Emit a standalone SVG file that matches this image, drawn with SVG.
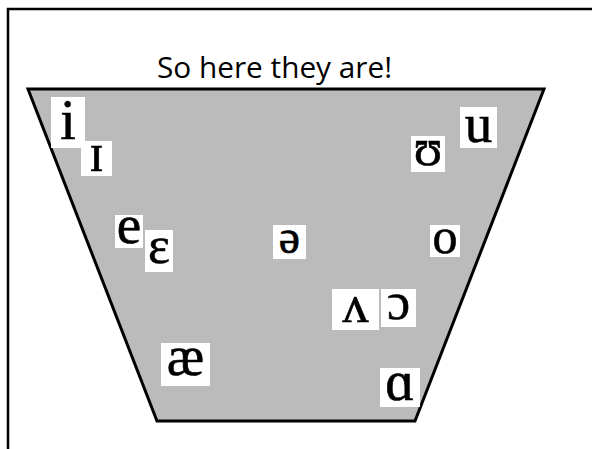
<svg xmlns="http://www.w3.org/2000/svg" width="592" height="449" viewBox="0 0 592 449">
<style>
.box{fill:#ffffff;stroke:none}
.ipa{font-family:"Liberation Serif","DejaVu Serif",serif;fill:#000;text-anchor:middle;stroke:#000;stroke-width:0.6}
.title{font-family:"Open Sans","Liberation Sans",sans-serif;font-size:29px;fill:#000}
</style>
<rect width="592" height="449" fill="#ffffff"/>
<g id="frame" fill="none" stroke="#000" stroke-width="2.5">
<polyline points="8,449 8,9 592,9"/>
</g>
<g id="title"><text class="title" x="157" y="78" textLength="235" lengthAdjust="spacingAndGlyphs">So here they are!</text></g>
<g id="vowel-space"><polygon points="28,89 544,89 415,421 157,421" fill="#bbbbbb" stroke="#000" stroke-width="3" stroke-linejoin="miter"/></g>
<g id="v-i"><rect class="box" x="51" y="97" width="34" height="51"/><text class="ipa" x="68" y="139" font-size="56">i</text></g>
<g id="v-ɪ"><rect class="box" x="81" y="141" width="31" height="35"/><text class="ipa" x="96.5" y="171" font-size="54">ɪ</text></g>
<g id="v-u"><rect class="box" x="460" y="107" width="37" height="41"/><text class="ipa" x="478.5" y="142" font-size="55">u</text></g>
<g id="v-ʊ"><rect class="box" x="411" y="136" width="34" height="36"/><text class="ipa" x="428" y="165" font-size="52">ʊ</text></g>
<g id="v-e"><rect class="box" x="115" y="215" width="28" height="33"/><text class="ipa" x="129" y="243" font-size="55">e</text></g>
<g id="v-ɛ"><rect class="box" x="145" y="230" width="28" height="42"/><text class="ipa" x="159" y="263" font-size="52">ɛ</text></g>
<g id="v-ə"><rect class="box" x="273" y="225" width="33" height="34"/><text class="ipa" x="289.5" y="253" font-size="48">ə</text></g>
<g id="v-o"><rect class="box" x="430" y="225" width="30" height="32"/><text class="ipa" x="445" y="253" font-size="50">o</text></g>
<g id="v-ʌ"><rect class="box" x="332" y="289" width="47" height="41"/><text class="ipa" x="355.5" y="322" font-size="52">ʌ</text></g>
<g id="v-ɔ"><rect class="box" x="381" y="289" width="35" height="38"/><text class="ipa" x="398.5" y="319" font-size="52">ɔ</text></g>
<g id="v-æ"><rect class="box" x="161" y="343" width="49" height="43"/><text class="ipa" x="185.5" y="375" font-size="56">æ</text></g>
<g id="v-ɑ"><rect class="box" x="380" y="368" width="40" height="39"/><text class="ipa" x="400" y="400" font-size="56">ɑ</text></g>
</svg>
